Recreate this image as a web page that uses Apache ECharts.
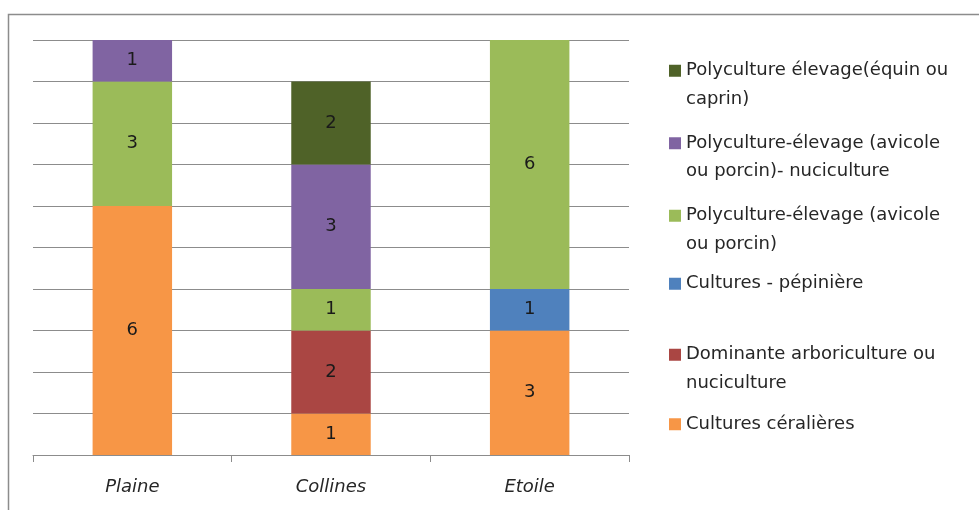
<!DOCTYPE html>
<html>
<head>
<meta charset="utf-8">
<script src="https://cdn.jsdelivr.net/npm/echarts@6/dist/echarts.min.js"></script>
<style>
html,body{margin:0;padding:0;background:#fff;}
#chart{width:979px;height:510px;}
</style>
</head>
<body>
<div id="chart"></div>
<script>
const categories = ['Plaine', 'Collines', 'Etoile'];
const seriesNames = [
  'Cultures céralières',
  'Dominante arboriculture ou nuciculture',
  'Cultures - pépinière',
  'Polyculture-élevage (avicole ou porcin)',
  'Polyculture-élevage (avicole ou porcin)- nuciculture',
  'Polyculture élevage(équin ou caprin)'
];
const legendLabels = [
  'Cultures céralières',
  'Dominante arboriculture ou\nnuciculture',
  'Cultures - pépinière',
  'Polyculture-élevage (avicole\nou porcin)',
  'Polyculture-élevage (avicole\nou porcin)- nuciculture',
  'Polyculture élevage(équin ou\ncaprin)'
];
const cerealieres = [6, 1, 3];
const arboriculture = [null, 2, null];
const pepiniere = [null, null, 1];
const polyAvicole = [3, 1, 6];
const polyNuciculture = [1, 3, null];
const polyEquin = [null, 2, null];
const seriesValues = [cerealieres, arboriculture, pepiniere, polyAvicole, polyNuciculture, polyEquin];
const colors = ['#F79646', '#AA4643', '#4F81BD', '#9BBB59', '#8064A2', '#4F6228'];

const chart = echarts.init(document.getElementById('chart'));
const fontFamily = '"DejaVu Sans", sans-serif';

// icon centre targets (px) for each legend entry
const legendCentres = [424, 354, 283.5, 215, 142.5, 70];
const legends = seriesNames.map((n, i) => {
  const twoLines = legendLabels[i].indexOf('\n') >= 0;
  const text = twoLines ? '\u00a0\n' + legendLabels[i] : legendLabels[i];
  return {
    orient: 'vertical',
    left: 664,
    top: legendCentres[i] - (twoLines ? 47 : 19),
    itemWidth: 12,
    itemHeight: 12,
    icon: 'rect',
    selectedMode: false,
    data: [n],
    formatter: () => text,
    textStyle: {fontFamily, fontSize: 18, color: '#262626', lineHeight: 28.5}
  };
});

chart.setOption({
  animation: false,
  color: colors,
  graphic: [{
    type: 'polyline',
    shape: {points: [[8.5, 510], [8.5, 14.5], [979, 14.5]]},
    style: {stroke: '#8C8C8C', lineWidth: 1.5, fill: null}
  }],
  legend: legends,
  grid: {left: 33, right: 350, top: 40, bottom: 55},
  xAxis: {
    type: 'category',
    data: categories,
    axisLine: {lineStyle: {color: '#8C8C8C', width: 1}},
    axisTick: {show: true, length: 7, lineStyle: {color: '#8C8C8C'}},
    axisLabel: {fontFamily, fontSize: 18, fontStyle: 'italic', color: '#262626', margin: 23}
  },
  yAxis: {
    type: 'value',
    min: 0, max: 10, interval: 1,
    axisLabel: {show: false},
    axisLine: {show: false},
    axisTick: {show: false},
    splitLine: {lineStyle: {color: '#8C8C8C', width: 1}}
  },
  series: seriesNames.map((n, i) => ({
    name: n,
    type: 'bar',
    stack: 'total',
    barWidth: '40%',
    data: seriesValues[i],
    itemStyle: {color: colors[i]},
    label: {show: true, position: 'inside', fontFamily, fontSize: 18, color: '#1a1a1a'}
  }))
});
</script>
</body>
</html>
